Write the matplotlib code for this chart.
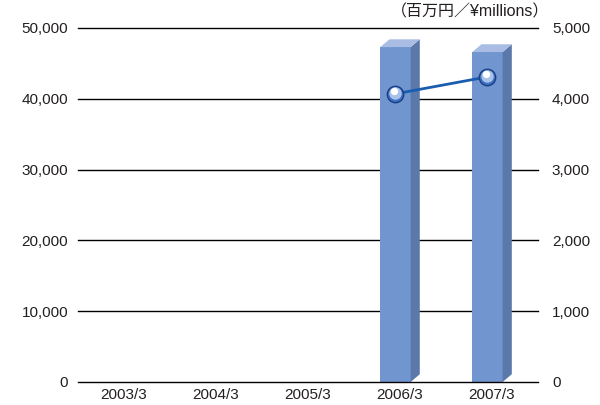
import matplotlib
matplotlib.use('Agg')
import matplotlib.pyplot as plt
from matplotlib.patches import Polygon
import numpy as np

plt.rcParams['font.family'] = ['Liberation Sans', 'Noto Sans CJK JP', 'DejaVu Sans']

categories = ['2003/3', '2004/3', '2005/3', '2006/3', '2007/3']
bar_values = [np.nan, np.nan, np.nan, 47300, 46600]      # left axis
line_values = [np.nan, np.nan, np.nan, 4070, 4310]       # right axis, ¥ millions
left_ticks = [0, 10000, 20000, 30000, 40000, 50000]
right_ticks = [0, 1000, 2000, 3000, 4000, 5000]

front_col = '#7195cf'
side_col = '#5a78aa'
top_col = '#a8bce4'
line_col = '#1a5cb0'
text_col = '#231f20'

fig = plt.figure(figsize=(6, 4.05), dpi=100)
ax = fig.add_axes([0.13, 0.0568, 0.7667, 0.8741])
x = np.arange(len(categories))

w = 0.33      # front face width
dx = 0.10     # depth in x
dy = 1100     # depth in y (data units)
shift = -0.05

for xi, v in zip(x, bar_values):
    if np.isnan(v):
        continue
    x0 = xi + shift - w / 2
    x1 = xi + shift + w / 2
    ax.bar(xi + shift, v, width=w, color=front_col, linewidth=0, zorder=3)
    ax.add_patch(Polygon([(x1, 0), (x1 + dx, dy), (x1 + dx, v + dy), (x1, v)],
                         closed=True, facecolor=side_col, linewidth=0, zorder=3))
    ax.add_patch(Polygon([(x0, v), (x1, v), (x1 + dx, v + dy), (x0 + dx, v + dy)],
                         closed=True, facecolor=top_col, linewidth=0, zorder=3))

for t in left_ticks:
    ax.axhline(t, color='black', linewidth=1.0, zorder=4 if t == 0 else 2,
               clip_on=False)

ax.set_xlim(-0.5, 4.5)
ax.set_ylim(0, 50000)
ax.set_yticks(left_ticks)
ax.set_yticklabels([f'{t:,}' for t in left_ticks])
ax.set_xticks(x)
ax.set_xticklabels(categories)
ax.tick_params(length=0, labelsize=11, colors=text_col)
ax.tick_params(axis='y', pad=7)
ax.tick_params(axis='x', pad=4)
for s in ax.spines.values():
    s.set_visible(False)

ax2 = ax.twinx()
ax2.set_ylim(0, 5000)
ax2.set_yticks(right_ticks)
ax2.set_yticklabels([f'{t:,}' for t in right_ticks])
ax2.tick_params(length=0, labelsize=11, colors=text_col, pad=10)
for s in ax2.spines.values():
    s.set_visible(False)

lx = x + shift
ax2.plot(lx, line_values, color=line_col, linewidth=2, zorder=5)
# sphere-like markers
ax2.scatter(lx, line_values, s=140, color='#3f6fc0', edgecolors='#1a3f86',
            linewidths=1.0, zorder=6)
ax2.scatter(lx - 0.008, np.array(line_values) + 15, s=80, color='#a9c2ea',
            linewidths=0, zorder=7)
ax2.scatter(lx - 0.018, np.array(line_values) + 40, s=28, color='white',
            linewidths=0, zorder=8)

fig.text(0.915, 0.99, '（百万円／¥millions）', ha='right', va='top',
         fontsize=11.5, color=text_col)

fig.savefig('out.png', dpi=100)
